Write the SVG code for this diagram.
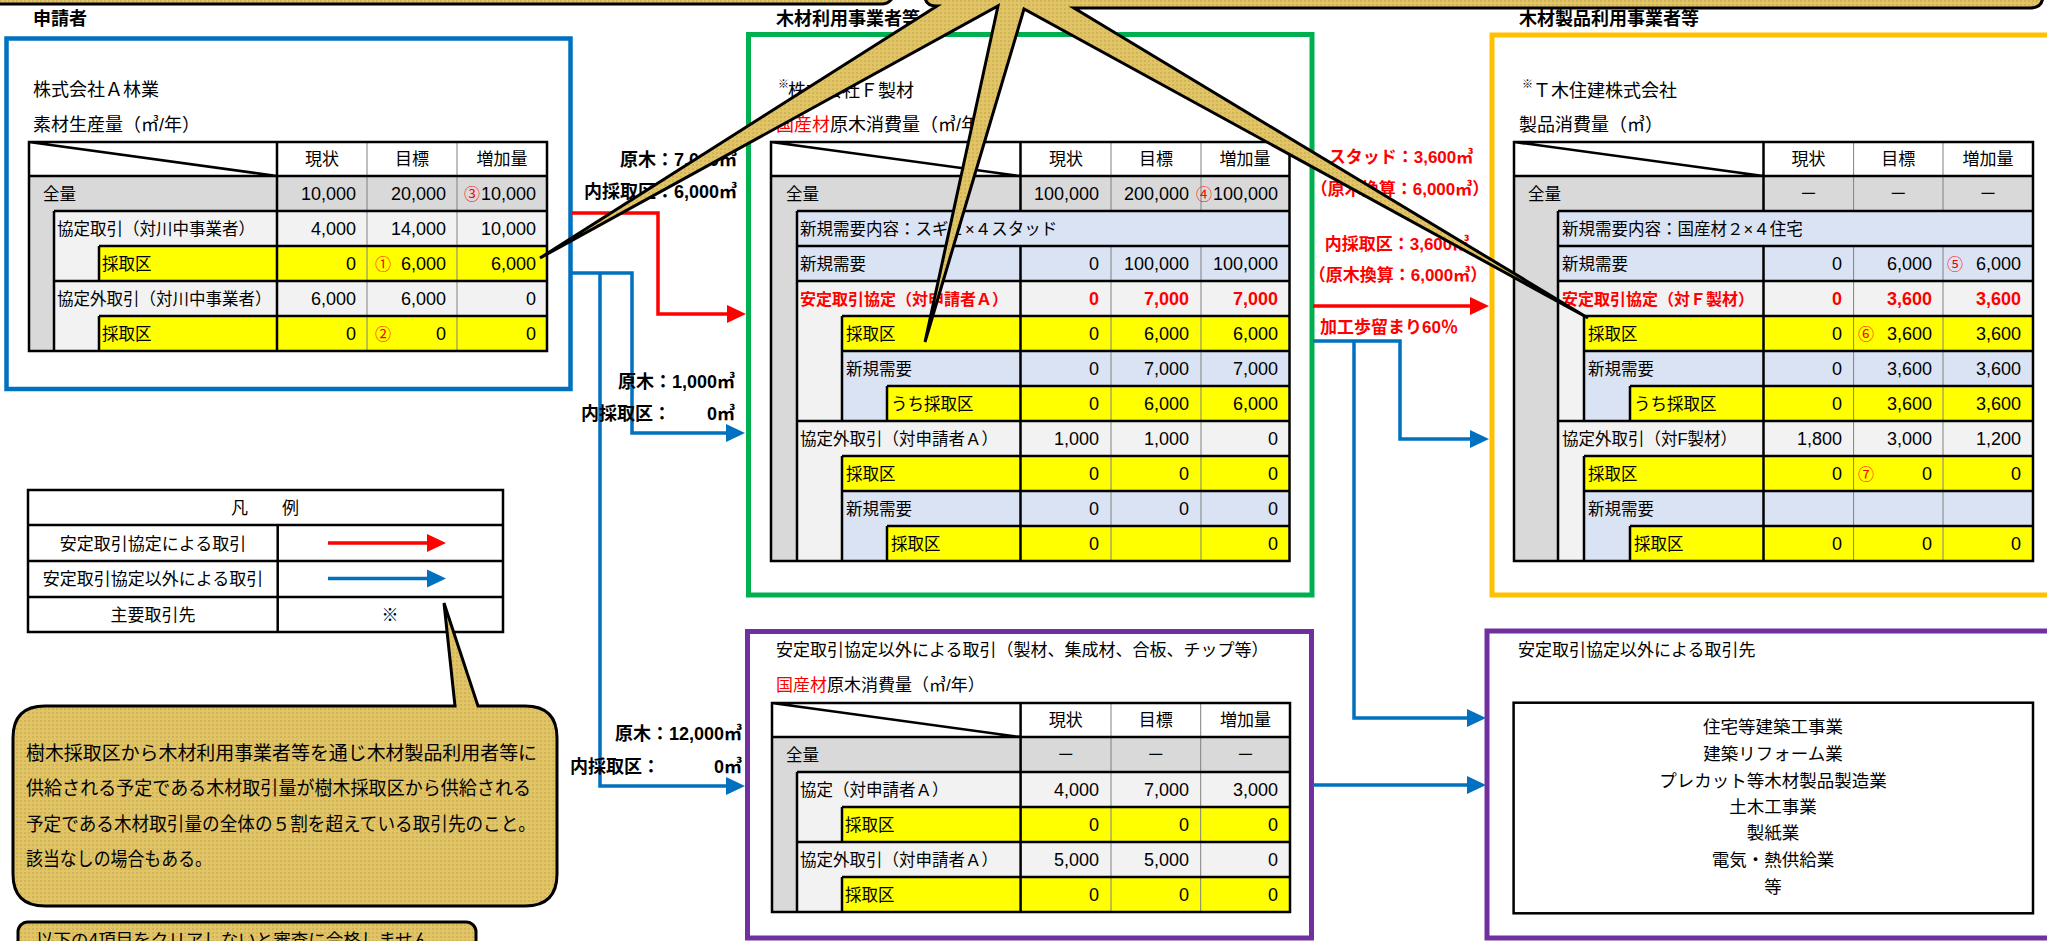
<svg xmlns="http://www.w3.org/2000/svg" width="2047" height="941" viewBox="0 0 2047 941">
<style>
text{font-family:"Liberation Sans","Noto Sans CJK JP",sans-serif;fill:#000}
.ttl{font-size:18px}
.hd{font-size:18px;font-weight:bold}
.lb{font-size:16.5px}
.h{font-size:17px;text-anchor:middle}
.n{font-size:18px;text-anchor:end}
.m{font-size:18px;text-anchor:middle}
.ci{font-size:16px;fill:#F00}
.red{fill:#F00;font-weight:bold}
.bk{fill:none;stroke:#000;stroke-width:2.5}
.gl{fill:none;stroke:#808080;stroke-width:1}
.g1{fill:#D9D9D9}.g2{fill:#F2F2F2}.bl{fill:#DAE3F3}.ye{fill:#FFFF00}.wh{fill:#FFF}
.ar{fill:none;stroke-width:3.5}
.cl{font-size:18px;font-weight:bold}
.cr{font-size:17px;font-weight:bold;fill:#F00;text-anchor:middle}
.sup{font-size:11px}
.gold{fill:url(#tex);stroke:#000;stroke-width:3}
</style>
<defs>
<pattern id="tex" width="4" height="4" patternUnits="userSpaceOnUse">
<rect width="4" height="4" fill="#E1C466"/>
<rect width="2" height="2" fill="#D2B458"/>
</pattern>
<marker id="ahr" markerUnits="userSpaceOnUse" markerWidth="20" markerHeight="20" viewBox="0 0 20 20" refX="9" refY="10" orient="auto"><path d="M0,1 L19,10 L0,19 Z" fill="#FF0000"/></marker>
<marker id="ahb" markerUnits="userSpaceOnUse" markerWidth="20" markerHeight="20" viewBox="0 0 20 20" refX="9" refY="10" orient="auto"><path d="M0,1 L19,10 L0,19 Z" fill="#0070C0"/></marker>
</defs>
<rect width="2047" height="941" fill="#FFF"/>

<!-- section headings -->
<text x="33" y="25" class="hd">申請者</text>
<text x="776" y="25" class="hd">木材利用事業者等</text>
<text x="1519" y="25" class="hd">木材製品利用事業者等</text>

<!-- Applicant -->
<g id="applicant">
<rect x="6.5" y="38.5" width="564" height="350.5" fill="#FFF" stroke="#0070C0" stroke-width="4.5"/>
<text x="33" y="96" class="ttl">株式会社Ａ林業</text>
<text x="33" y="131" class="ttl">素材生産量（㎥/年）</text>
<rect x="29" y="142" width="518" height="34" class="wh"/>
<rect x="29" y="176" width="518" height="35" class="g1"/>
<rect x="29" y="211" width="25" height="140" class="g1"/>
<rect x="54" y="211" width="493" height="35" class="g2"/>
<rect x="54" y="246" width="45" height="35" class="g2"/>
<rect x="99" y="246" width="448" height="35" class="ye"/>
<rect x="54" y="281" width="493" height="35" class="g2"/>
<rect x="54" y="316" width="45" height="35" class="g2"/>
<rect x="99" y="316" width="448" height="35" class="ye"/>
<path class="gl" d="M367,142V351M457,142V351"/>
<path class="bk" d="M29,142H547V351H29Z M29,176H547 M29,142L277,176 M277,142V351 M54,211H547 M54,211V351 M99,246H547 M99,246V281 M54,281H547 M99,316H547 M99,316V351"/>
<text x="322" y="165" class="h">現状</text><text x="412" y="165" class="h">目標</text><text x="502" y="165" class="h">増加量</text>
<text x="43" y="200" class="lb">全量</text>
<text x="356" y="200" class="n">10,000</text><text x="446" y="200" class="n">20,000</text><text x="536" y="200" class="n">10,000</text><text x="464" y="200" class="ci">③</text>
<text x="57" y="235" class="lb">協定取引（対川中事業者）</text>
<text x="356" y="235" class="n">4,000</text><text x="446" y="235" class="n">14,000</text><text x="536" y="235" class="n">10,000</text>
<text x="102" y="270" class="lb">採取区</text>
<text x="356" y="270" class="n">0</text><text x="446" y="270" class="n">6,000</text><text x="536" y="270" class="n">6,000</text><text x="375" y="270" class="ci">①</text>
<text x="57" y="305" class="lb">協定外取引（対川中事業者）</text>
<text x="356" y="305" class="n">6,000</text><text x="446" y="305" class="n">6,000</text><text x="536" y="305" class="n">0</text>
<text x="102" y="340" class="lb">採取区</text>
<text x="356" y="340" class="n">0</text><text x="446" y="340" class="n">0</text><text x="536" y="340" class="n">0</text><text x="375" y="340" class="ci">②</text>
</g>

<!-- Wood utilization business (F) -->
<g id="wood-user">
<rect x="748.5" y="34.5" width="563.5" height="560.5" fill="#FFF" stroke="#00B050" stroke-width="5"/>
<text x="778" y="88" class="sup">※</text>
<text x="788" y="97" class="ttl">株式会社Ｆ製材</text>
<text x="776" y="131" class="ttl"><tspan fill="#FF0000">国産材</tspan>原木消費量（㎥/年）</text>
<rect x="771" y="142" width="518.5" height="34" class="wh"/>
<rect x="771" y="176" width="518.5" height="35" class="g1"/>
<rect x="771" y="211" width="26" height="350" class="g1"/>
<rect x="797" y="211" width="492.5" height="35" class="bl"/>
<rect x="797" y="246" width="492.5" height="35" class="bl"/>
<rect x="797" y="281" width="492.5" height="35" class="g2"/>
<rect x="797" y="316" width="45" height="105" class="g2"/>
<rect x="842" y="316" width="447.5" height="35" class="ye"/>
<rect x="842" y="351" width="447.5" height="35" class="bl"/>
<rect x="842" y="386" width="45" height="35" class="bl"/>
<rect x="887" y="386" width="402.5" height="35" class="ye"/>
<rect x="797" y="421" width="492.5" height="35" class="g2"/>
<rect x="797" y="456" width="45" height="105" class="g2"/>
<rect x="842" y="456" width="447.5" height="35" class="ye"/>
<rect x="842" y="491" width="447.5" height="35" class="bl"/>
<rect x="842" y="526" width="45" height="35" class="bl"/>
<rect x="887" y="526" width="402.5" height="35" class="ye"/>
<path class="gl" d="M1111,142V211M1111,246V561M1201,142V211M1201,246V561"/>
<path class="bk" d="M771,142H1289.5V561H771Z M771,176H1289.5 M771,142L1020.5,176 M1020.5,142V211 M1020.5,246V561 M797,211H1289.5 M797,211V561 M797,246H1289.5 M797,281H1289.5 M842,316H1289.5 M842,316V421 M842,351H1289.5 M887,386H1289.5 M887,386V421 M797,421H1289.5 M842,456H1289.5 M842,456V561 M842,491H1289.5 M887,526H1289.5 M887,526V561"/>
<text x="1066" y="165" class="h">現状</text><text x="1156" y="165" class="h">目標</text><text x="1245" y="165" class="h">増加量</text>
<text x="786" y="200" class="lb">全量</text>
<text x="1099" y="200" class="n">100,000</text><text x="1189" y="200" class="n">200,000</text><text x="1278" y="200" class="n">100,000</text><text x="1196" y="200" class="ci">④</text>
<text x="800" y="235" class="lb">新規需要内容：スギ２×４スタッド</text>
<text x="800" y="270" class="lb">新規需要</text>
<text x="1099" y="270" class="n">0</text><text x="1189" y="270" class="n">100,000</text><text x="1278" y="270" class="n">100,000</text>
<text x="800" y="305" class="lb red" style="font-size:16px">安定取引協定（対申請者Ａ）</text>
<text x="1099" y="305" class="n red">0</text><text x="1189" y="305" class="n red">7,000</text><text x="1278" y="305" class="n red">7,000</text>
<text x="846" y="340" class="lb">採取区</text>
<text x="1099" y="340" class="n">0</text><text x="1189" y="340" class="n">6,000</text><text x="1278" y="340" class="n">6,000</text>
<text x="846" y="375" class="lb">新規需要</text>
<text x="1099" y="375" class="n">0</text><text x="1189" y="375" class="n">7,000</text><text x="1278" y="375" class="n">7,000</text>
<text x="891" y="410" class="lb">うち採取区</text>
<text x="1099" y="410" class="n">0</text><text x="1189" y="410" class="n">6,000</text><text x="1278" y="410" class="n">6,000</text>
<text x="800" y="445" class="lb">協定外取引（対申請者Ａ）</text>
<text x="1099" y="445" class="n">1,000</text><text x="1189" y="445" class="n">1,000</text><text x="1278" y="445" class="n">0</text>
<text x="846" y="480" class="lb">採取区</text>
<text x="1099" y="480" class="n">0</text><text x="1189" y="480" class="n">0</text><text x="1278" y="480" class="n">0</text>
<text x="846" y="515" class="lb">新規需要</text>
<text x="1099" y="515" class="n">0</text><text x="1189" y="515" class="n">0</text><text x="1278" y="515" class="n">0</text>
<text x="891" y="550" class="lb">採取区</text>
<text x="1099" y="550" class="n">0</text><text x="1278" y="550" class="n">0</text>
</g>

<!-- Wood product user (T) -->
<g id="product-user">
<rect x="1492" y="35" width="600" height="560" fill="#FFF" stroke="#FFC000" stroke-width="5"/>
<text x="1522" y="88" class="sup">※</text>
<text x="1533" y="97" class="ttl">Ｔ木住建株式会社</text>
<text x="1519" y="131" class="ttl">製品消費量（㎥）</text>
<rect x="1514" y="142" width="519" height="34" class="wh"/>
<rect x="1514" y="176" width="519" height="35" class="g1"/>
<rect x="1514" y="211" width="44" height="350" class="g1"/>
<rect x="1558" y="211" width="475" height="35" class="bl"/>
<rect x="1558" y="246" width="475" height="35" class="bl"/>
<rect x="1558" y="281" width="475" height="35" class="g2"/>
<rect x="1558" y="316" width="26" height="105" class="g2"/>
<rect x="1584" y="316" width="449" height="35" class="ye"/>
<rect x="1584" y="351" width="449" height="35" class="bl"/>
<rect x="1584" y="386" width="46" height="35" class="bl"/>
<rect x="1630" y="386" width="403" height="35" class="ye"/>
<rect x="1558" y="421" width="475" height="35" class="g2"/>
<rect x="1558" y="456" width="26" height="105" class="g2"/>
<rect x="1584" y="456" width="449" height="35" class="ye"/>
<rect x="1584" y="491" width="449" height="35" class="bl"/>
<rect x="1584" y="526" width="46" height="35" class="bl"/>
<rect x="1630" y="526" width="403" height="35" class="ye"/>
<path class="gl" d="M1853.6,142V211M1853.6,246V561M1943,142V211M1943,246V561"/>
<path class="bk" d="M1514,142H2033V561H1514Z M1514,176H2033 M1514,142L1763.5,176 M1763.5,142V211 M1763.5,246V561 M1558,211H2033 M1558,211V561 M1558,246H2033 M1558,281H2033 M1584,316H2033 M1584,316V421 M1584,351H2033 M1630,386H2033 M1630,386V421 M1558,421H2033 M1584,456H2033 M1584,456V561 M1584,491H2033 M1630,526H2033 M1630,526V561"/>
<text x="1808.5" y="165" class="h">現状</text><text x="1898.3" y="165" class="h">目標</text><text x="1988" y="165" class="h">増加量</text>
<text x="1528" y="200" class="lb">全量</text>
<text x="1808.5" y="200" class="m">－</text><text x="1898.3" y="200" class="m">－</text><text x="1988" y="200" class="m">－</text>
<text x="1562" y="235" class="lb">新規需要内容：国産材２×４住宅</text>
<text x="1562" y="270" class="lb">新規需要</text>
<text x="1842" y="270" class="n">0</text><text x="1932" y="270" class="n">6,000</text><text x="2021" y="270" class="n">6,000</text><text x="1947" y="270" class="ci">⑤</text>
<text x="1562" y="305" class="lb red" style="font-size:16px">安定取引協定（対Ｆ製材）</text>
<text x="1842" y="305" class="n red">0</text><text x="1932" y="305" class="n red">3,600</text><text x="2021" y="305" class="n red">3,600</text>
<text x="1588" y="340" class="lb">採取区</text>
<text x="1842" y="340" class="n">0</text><text x="1932" y="340" class="n">3,600</text><text x="2021" y="340" class="n">3,600</text><text x="1858" y="340" class="ci">⑥</text>
<text x="1588" y="375" class="lb">新規需要</text>
<text x="1842" y="375" class="n">0</text><text x="1932" y="375" class="n">3,600</text><text x="2021" y="375" class="n">3,600</text>
<text x="1634" y="410" class="lb">うち採取区</text>
<text x="1842" y="410" class="n">0</text><text x="1932" y="410" class="n">3,600</text><text x="2021" y="410" class="n">3,600</text>
<text x="1562" y="445" class="lb">協定外取引（対F製材）</text>
<text x="1842" y="445" class="n">1,800</text><text x="1932" y="445" class="n">3,000</text><text x="2021" y="445" class="n">1,200</text>
<text x="1588" y="480" class="lb">採取区</text>
<text x="1842" y="480" class="n">0</text><text x="1932" y="480" class="n">0</text><text x="2021" y="480" class="n">0</text><text x="1858" y="480" class="ci">⑦</text>
<text x="1588" y="515" class="lb">新規需要</text>
<text x="1634" y="550" class="lb">採取区</text>
<text x="1842" y="550" class="n">0</text><text x="1932" y="550" class="n">0</text><text x="2021" y="550" class="n">0</text>
</g>

<!-- Other trade (purple middle) -->
<g id="other-trade">
<rect x="747.5" y="631.5" width="564" height="306.5" fill="#FFF" stroke="#7030A0" stroke-width="5"/>
<text x="776" y="656" class="ttl" style="font-size:17px">安定取引協定以外による取引（製材、集成材、合板、チップ等）</text>
<text x="776" y="691" class="ttl" style="font-size:17px"><tspan fill="#FF0000">国産材</tspan>原木消費量（㎥/年）</text>
<rect x="772" y="703" width="518" height="34" class="wh"/>
<rect x="772" y="737" width="518" height="35" class="g1"/>
<rect x="772" y="772" width="25" height="140" class="g1"/>
<rect x="797" y="772" width="493" height="35" class="g2"/>
<rect x="797" y="807" width="45" height="35" class="g2"/>
<rect x="842" y="807" width="448" height="35" class="ye"/>
<rect x="797" y="842" width="493" height="35" class="g2"/>
<rect x="797" y="877" width="45" height="35" class="g2"/>
<rect x="842" y="877" width="448" height="35" class="ye"/>
<path class="gl" d="M1111,703V912M1200.7,703V912"/>
<path class="bk" d="M772,703H1290V912H772Z M772,737H1290 M772,703L1020.6,737 M1020.6,703V912 M797,772H1290 M797,772V912 M842,807H1290 M842,807V842 M797,842H1290 M842,877H1290 M842,877V912"/>
<text x="1065.8" y="726" class="h">現状</text><text x="1155.8" y="726" class="h">目標</text><text x="1245.4" y="726" class="h">増加量</text>
<text x="786" y="761" class="lb">全量</text>
<text x="1065.8" y="761" class="m">－</text><text x="1155.8" y="761" class="m">－</text><text x="1245.4" y="761" class="m">－</text>
<text x="800" y="796" class="lb">協定（対申請者Ａ）</text>
<text x="1099" y="796" class="n">4,000</text><text x="1189" y="796" class="n">7,000</text><text x="1278" y="796" class="n">3,000</text>
<text x="845" y="831" class="lb">採取区</text>
<text x="1099" y="831" class="n">0</text><text x="1189" y="831" class="n">0</text><text x="1278" y="831" class="n">0</text>
<text x="800" y="866" class="lb">協定外取引（対申請者Ａ）</text>
<text x="1099" y="866" class="n">5,000</text><text x="1189" y="866" class="n">5,000</text><text x="1278" y="866" class="n">0</text>
<text x="845" y="901" class="lb">採取区</text>
<text x="1099" y="901" class="n">0</text><text x="1189" y="901" class="n">0</text><text x="1278" y="901" class="n">0</text>
</g>

<!-- Other partners (purple right) -->
<g id="other-partners">
<rect x="1487" y="631" width="600" height="307" fill="#FFF" stroke="#7030A0" stroke-width="5"/>
<text x="1518" y="656" class="ttl" style="font-size:17px">安定取引協定以外による取引先</text>
<rect x="1513.6" y="702.7" width="519.4" height="210.6" fill="none" stroke="#000" stroke-width="2.5"/>
<g style="font-size:17.5px;text-anchor:middle">
<text x="1773" y="733">住宅等建築工事業</text>
<text x="1773" y="760">建築リフォーム業</text>
<text x="1773" y="787">プレカット等木材製品製造業</text>
<text x="1773" y="813">土木工事業</text>
<text x="1773" y="839">製紙業</text>
<text x="1773" y="866">電気・熱供給業</text>
<text x="1773" y="893">等</text>
</g>
</g>

<!-- Legend -->
<g id="legend">
<rect x="28" y="490" width="475" height="142" fill="#FFF"/>
<path class="bk" d="M28,490H503V632H28Z M28,525H503 M28,561H503 M28,597H503 M277.7,525V632"/>
<text x="265" y="514" class="h">凡　　例</text>
<text x="153" y="549.5" class="h">安定取引協定による取引</text>
<text x="153" y="585" class="h">安定取引協定以外による取引</text>
<text x="153" y="620.5" class="h">主要取引先</text>
<text x="390" y="620.5" class="h">※</text>
<path d="M328,543H436" class="ar" stroke="#FF0000" marker-end="url(#ahr)"/>
<path d="M328,578.5H436" class="ar" stroke="#0070C0" marker-end="url(#ahb)"/>
</g>

<!-- Connectors -->
<g id="connectors">
<path d="M572,213H658V314H736" class="ar" stroke="#FF0000" marker-end="url(#ahr)"/>
<path d="M572,273H632V433H735" class="ar" stroke="#0070C0" marker-end="url(#ahb)"/>
<path d="M600,273V786H735" class="ar" stroke="#0070C0" marker-end="url(#ahb)"/>
<path d="M1313,306H1479" class="ar" stroke="#FF0000" marker-end="url(#ahr)"/>
<path d="M1313,341H1400V439H1479" class="ar" stroke="#0070C0" marker-end="url(#ahb)"/>
<path d="M1354,341V718H1476" class="ar" stroke="#0070C0" marker-end="url(#ahb)"/>
<path d="M1313,785H1476" class="ar" stroke="#0070C0" marker-end="url(#ahb)"/>
<text x="737" y="166" class="cl" text-anchor="end" fill="#FF0000">原木：7,000㎥</text>
<text x="737" y="198" class="cl" text-anchor="end" fill="#FF0000">内採取区：6,000㎥</text>
<text x="735" y="388" class="cl" text-anchor="end">原木：1,000㎥</text>
<text x="735" y="420" class="cl" text-anchor="end">内採取区：　　0㎥</text>
<text x="742" y="740" class="cl" text-anchor="end">原木：12,000㎥</text>
<text x="742" y="773" class="cl" text-anchor="end">内採取区：　　　0㎥</text>
<text x="1401" y="163" class="cr">スタッド：3,600㎥</text>
<text x="1400" y="195" class="cr">（原木換算：6,000㎥）</text>
<text x="1397" y="250" class="cr">内採取区：3,600㎥</text>
<text x="1398" y="281" class="cr">（原木換算：6,000㎥）</text>
<text x="1389" y="333" class="cr">加工歩留まり60％</text>
</g>

<!-- Callouts -->
<g id="callout-top-left">
<rect x="-20" y="-60" width="914" height="64" rx="12" class="gold" stroke="#333"/>
</g>
<g id="callout-top">
<path d="M925,-40 V-4 Q925,6 937,6 L540,258 L998,6 L925,342 L1024,9 L1588,318 L1074,8 L2030,8 Q2043,8 2043,-5 V-40 Z" class="gold"/>
</g>
<g id="callout-note">
<path d="M45,706 H455 L444,603 L478,706 H525 Q557,706 557,738 V874 Q557,906 525,906 H45 Q13,906 13,874 V738 Q13,706 45,706 Z" class="gold"/>
<g style="font-size:19px">
<text x="26" y="760" textLength="511" lengthAdjust="spacingAndGlyphs">樹木採取区から木材利用事業者等を通じ木材製品利用者等に</text>
<text x="26" y="795" textLength="505" lengthAdjust="spacingAndGlyphs">供給される予定である木材取引量が樹木採取区から供給される</text>
<text x="26" y="831" textLength="510" lengthAdjust="spacingAndGlyphs">予定である木材取引量の全体の５割を超えている取引先のこと。</text>
<text x="26" y="866" textLength="186" lengthAdjust="spacingAndGlyphs">該当なしの場合もある。</text>
</g>
</g>
<g id="callout-bottom">
<rect x="18" y="922" width="458" height="60" rx="10" class="gold"/>
<text x="36" y="946" style="font-size:17.5px">以下の4項目をクリアしないと審査に合格しません</text>
</g>
</svg>
